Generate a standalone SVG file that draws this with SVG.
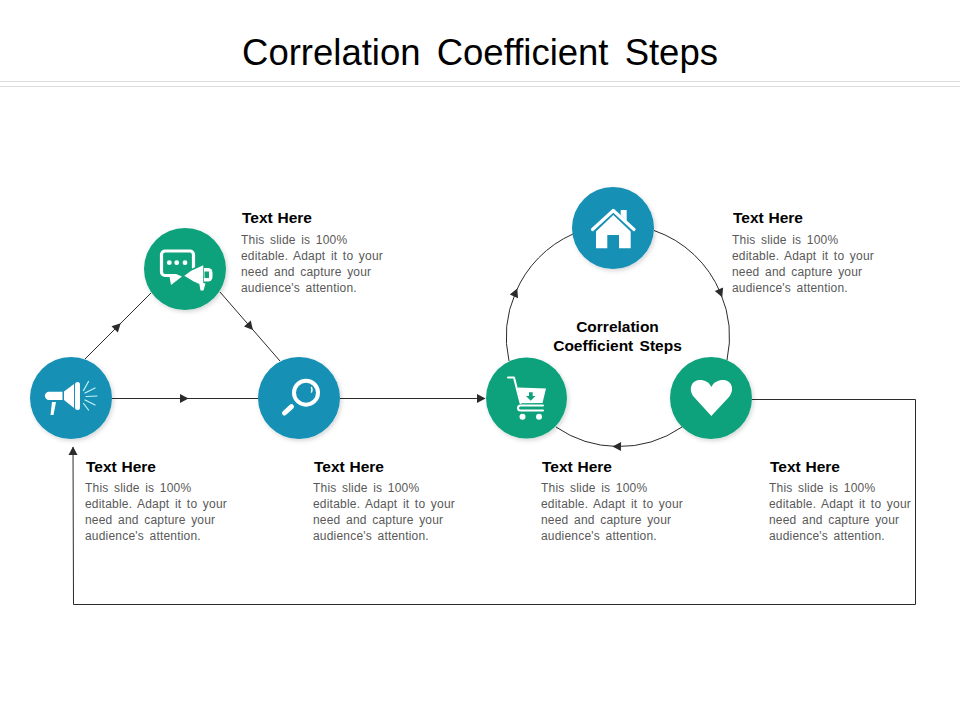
<svg xmlns="http://www.w3.org/2000/svg" width="960" height="720" viewBox="0 0 960 720">
<style>
.t{font-family:"Liberation Sans",Arial,sans-serif}
.title{font-size:36.500px;fill:#000;text-anchor:middle;word-spacing:6px}
.h{font-size:15.500px;font-weight:bold;fill:#000;word-spacing:.5px}
.b{font-size:12px;fill:#595959;word-spacing:2px;letter-spacing:.2px}
.c{font-size:15.500px;font-weight:bold;fill:#000;text-anchor:middle;word-spacing:2px}
.rule{stroke:#dcdcdc;stroke-width:1.200}
.conn{fill:none;stroke:#2b2b2b;stroke-width:1}
.blue{fill:#1690b4;filter:url(#sh)}
.green{fill:#0fa27b;filter:url(#sh)}
.w{fill:#fff}
.ws{fill:none;stroke:#fff;stroke-linecap:round;stroke-linejoin:round}
</style>
<defs>
<filter id="sh" x="-20%" y="-20%" width="150%" height="150%"><feDropShadow dx="1.500" dy="2" stdDeviation="2" flood-color="#000" flood-opacity=".16"/></filter>
<marker id="a" viewBox="0 0 10 10" refX="5" refY="5" markerUnits="userSpaceOnUse" markerWidth="10" markerHeight="10" orient="auto"><path d="M1 0.500L9.500 5L1 9.500Z" fill="#2b2b2b"/></marker>
<marker id="e" viewBox="0 0 10 10" refX="9" refY="5" markerUnits="userSpaceOnUse" markerWidth="10" markerHeight="10" orient="auto"><path d="M1 0.500L9.500 5L1 9.500Z" fill="#2b2b2b"/></marker>
</defs>
<rect width="960" height="720" fill="#fff"/>
<text class="t title" x="480" y="65">Correlation Coefficient Steps</text>
<line class="rule" x1="0" y1="81.500" x2="960" y2="81.500"/>
<line class="rule" x1="0" y1="86.500" x2="960" y2="86.500"/>

<g id="connectors">
<polyline class="conn" marker-mid="url(#a)" points="85,359 117.500,326.500 151,293"/>
<polyline class="conn" marker-mid="url(#a)" points="220,292 250,326.500 280,361"/>
<polyline class="conn" marker-mid="url(#a)" points="112,398.500 184,398.500 258,398.500"/>
<line class="conn" marker-end="url(#e)" x1="340" y1="398.500" x2="485" y2="398.500"/>
<path class="conn" marker-end="url(#e)" d="M752 399.500H915.500V604.500H73.500L73 447"/>
<path class="conn" marker-mid="url(#a)" d="M654 230.500A111 111 0 0 1 720.500 293A111 111 0 0 1 727 360"/>
<path class="conn" marker-mid="url(#a)" d="M682 427A111 111 0 0 1 617 446.500A111 111 0 0 1 556 427"/>
<path class="conn" marker-mid="url(#a)" d="M509 361A111 111 0 0 1 515.500 292.700A111 111 0 0 1 573 234"/>
</g>

<g id="node-megaphone">
<circle class="blue" cx="71" cy="398" r="41"/>
<path class="w" d="M49 391.700H62.500V400H49A4.100 4.100 0 0 1 49 391.700Z"/>
<path class="w" d="M64 391.500L74 384V408L64 400Z"/>
<rect class="w" x="75" y="382" width="5" height="28" rx="2.500"/>
<path class="w" d="M52 402H56L53.500 415H50.500Z"/>
<path fill="none" stroke="#c9f4fb" stroke-width="1.200" stroke-linecap="round" d="M83.500 390.500L88.500 381.500M85 393L95 388M86 396.500L97 396M85 400L95 405M83.500 403.500L88.500 410"/>
<text class="t h" x="86" y="472">Text Here</text>
<text class="t b" x="85" y="492">This slide is 100%</text>
<text class="t b" x="85" y="508">editable. Adapt it to your</text>
<text class="t b" x="85" y="524">need and capture your</text>
<text class="t b" x="85" y="540">audience's attention.</text>
</g>

<g id="node-chat">
<circle class="green" cx="185" cy="269" r="41"/>
<path class="ws" stroke-width="3.200" d="M165 251H190A3.500 3.500 0 0 1 193.500 254.500V268M165 251A3.500 3.500 0 0 0 161.500 254.500V272A3.500 3.500 0 0 0 165 275.500H169"/>
<path class="w" d="M169 274H176L182 276.500L171 285Z"/>
<circle class="w" cx="169.300" cy="262.700" r="2.400"/>
<circle class="w" cx="176.700" cy="262.700" r="2.400"/>
<circle class="w" cx="185" cy="262.700" r="2.400"/>
<path class="w" stroke="#0fa27b" stroke-width="1.500" d="M183 276L191 270L204 264V287L193 282Z"/>
<path class="w" d="M204 268H208A4.500 4.500 0 0 1 212.500 272.500V277A4.500 4.500 0 0 1 208 281.500H204Z"/>
<rect x="204.500" y="271.500" width="4.500" height="6.500" fill="#0fa27b"/>
<path class="w" d="M199 282L205.500 283.500L203.500 290.500H200.500Z"/>
<text class="t h" x="242" y="223">Text Here</text>
<text class="t b" x="241" y="244">This slide is 100%</text>
<text class="t b" x="241" y="260">editable. Adapt it to your</text>
<text class="t b" x="241" y="276">need and capture your</text>
<text class="t b" x="241" y="292">audience's attention.</text>
</g>

<g id="node-search">
<circle class="blue" cx="299" cy="398" r="41"/>
<circle class="ws" cx="306" cy="392.700" r="12" stroke-width="4"/>
<path class="ws" stroke-width="5" d="M291.500 406.700L284.500 413"/>
<path class="ws" stroke-width="1.500" d="M311.500 387.500Q312.500 390 311.500 392"/>
<text class="t h" x="314" y="472">Text Here</text>
<text class="t b" x="313" y="492">This slide is 100%</text>
<text class="t b" x="313" y="508">editable. Adapt it to your</text>
<text class="t b" x="313" y="524">need and capture your</text>
<text class="t b" x="313" y="540">audience's attention.</text>
</g>

<g id="node-cart">
<circle class="green" cx="526.500" cy="398" r="40.500"/>
<path class="ws" stroke-width="2" d="M508 377.500H514L520.500 403"/>
<path class="w" d="M517.500 387.500L546 388.500L542.500 403L521 403.300Z"/>
<path fill="#0fa27b" d="M529 392.300H532.700V396H535.500L530.700 400.700L526 396H529Z"/>
<path class="ws" stroke-width="2" d="M543 405.500H520.500A2.500 2.500 0 0 0 520.500 410.500H543"/>
<circle class="w" cx="522.500" cy="416.700" r="3"/>
<circle class="w" cx="539" cy="416.700" r="3"/>
<text class="t h" x="542" y="472">Text Here</text>
<text class="t b" x="541" y="492">This slide is 100%</text>
<text class="t b" x="541" y="508">editable. Adapt it to your</text>
<text class="t b" x="541" y="524">need and capture your</text>
<text class="t b" x="541" y="540">audience's attention.</text>
</g>

<g id="node-heart">
<circle class="green" cx="711" cy="398" r="41"/>
<path class="w" d="M711.300 416L694 397C688 390 691 380 700 380C705 380 709 382 711.300 387C714 382 718 380 723 380C732 380 735 390 729 397Z"/>
<text class="t h" x="770" y="472">Text Here</text>
<text class="t b" x="769" y="492">This slide is 100%</text>
<text class="t b" x="769" y="508">editable. Adapt it to your</text>
<text class="t b" x="769" y="524">need and capture your</text>
<text class="t b" x="769" y="540">audience's attention.</text>
</g>

<g id="node-home">
<circle class="blue" cx="613" cy="228" r="41"/>
<path class="w" d="M620.700 210H626.700V221L620.700 215Z"/>
<path class="ws" stroke-width="3.200" d="M592.500 229.500L613.300 210.500L634 229.500"/>
<path class="w" d="M596 231.500L613.300 215L630.700 231.500V248.300H619V235H607.300V248.300H596Z"/>
<text class="t h" x="733" y="223">Text Here</text>
<text class="t b" x="732" y="244">This slide is 100%</text>
<text class="t b" x="732" y="260">editable. Adapt it to your</text>
<text class="t b" x="732" y="276">need and capture your</text>
<text class="t b" x="732" y="292">audience's attention.</text>
</g>

<g id="center-label">
<text class="t c" x="617.500" y="331.500">Correlation</text>
<text class="t c" x="617.500" y="350.500">Coefficient Steps</text>
</g>
</svg>
